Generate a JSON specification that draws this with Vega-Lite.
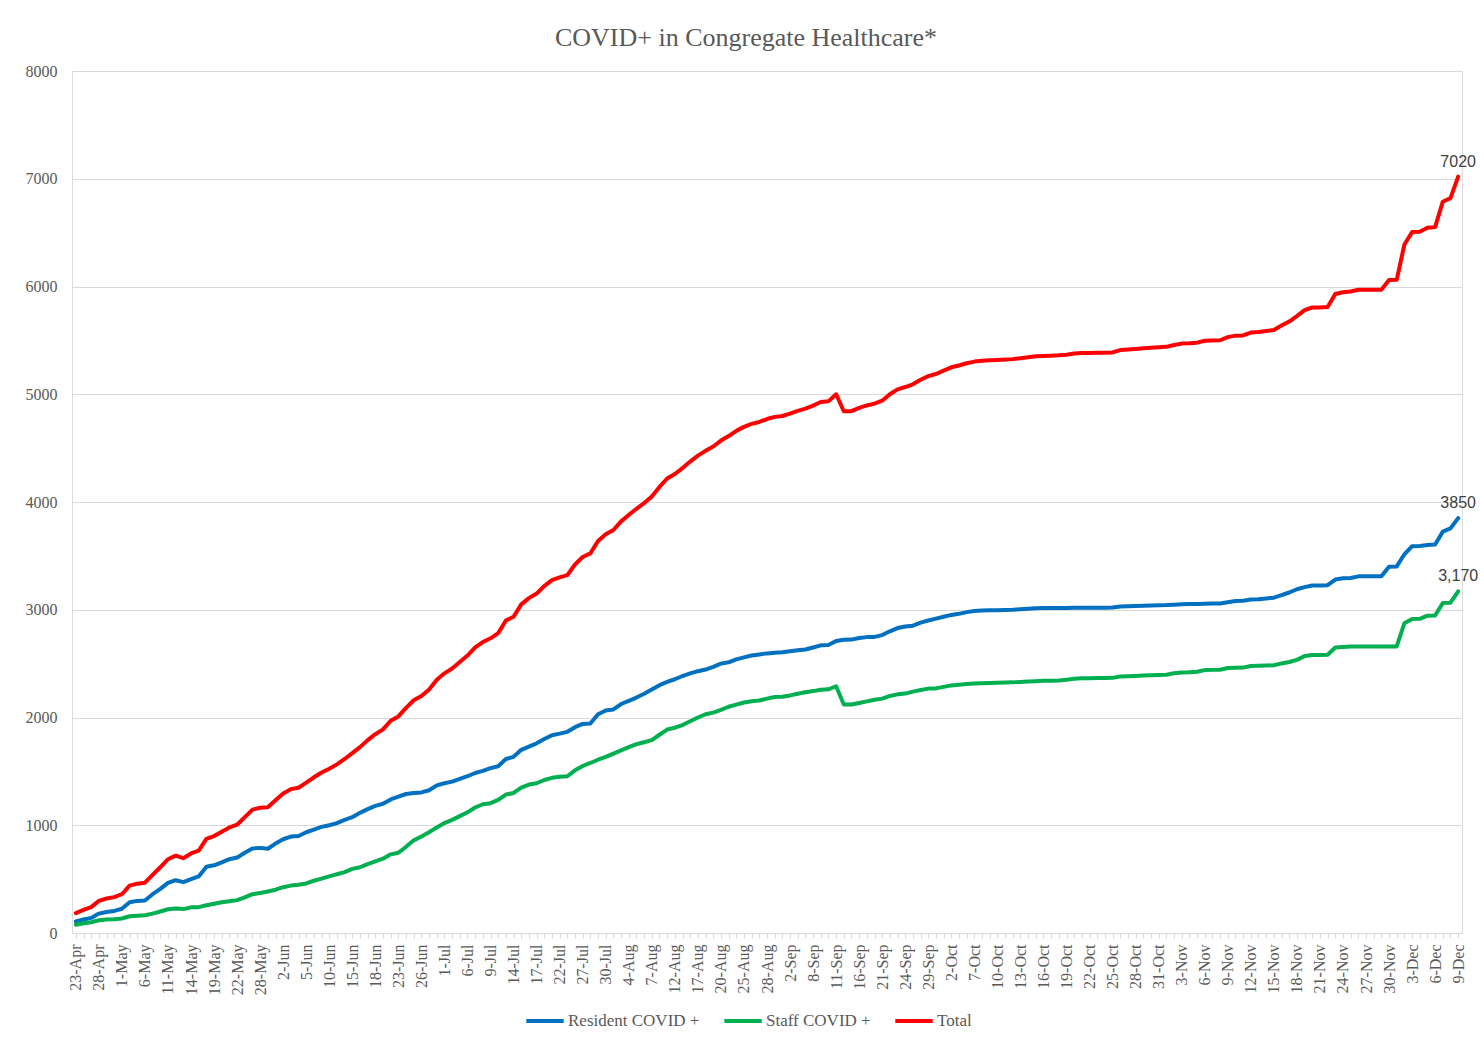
{
  "$schema": "https://vega.github.io/schema/vega-lite/v6.json",
  "width": 1390,
  "height": 862,
  "autosize": {"type": "none"},
  "padding": {"left": 72, "top": 71, "right": 22, "bottom": 109},
  "background": "white",
  "title": {"text": "COVID+ in Congregate Healthcare*", "font": "Liberation Serif", "fontSize": 26, "fontWeight": "normal", "color": "#595959", "anchor": "middle", "dx": -21, "offset": 12},
  "data": {"values": [
    {"d":"23-Apr","R":108,"S":77,"T":185},
    {"d":"24-Apr","R":125,"S":90,"T":215},
    {"d":"27-Apr","R":140,"S":100,"T":240},
    {"d":"28-Apr","R":180,"S":118,"T":298},
    {"d":"29-Apr","R":195,"S":125,"T":320},
    {"d":"30-Apr","R":205,"S":128,"T":333},
    {"d":"1-May","R":225,"S":135,"T":360},
    {"d":"4-May","R":285,"S":155,"T":440},
    {"d":"5-May","R":298,"S":160,"T":458},
    {"d":"6-May","R":302,"S":165,"T":467},
    {"d":"7-May","R":360,"S":180,"T":540},
    {"d":"8-May","R":410,"S":200,"T":610},
    {"d":"11-May","R":465,"S":220,"T":685},
    {"d":"12-May","R":490,"S":228,"T":718},
    {"d":"13-May","R":472,"S":222,"T":694},
    {"d":"14-May","R":500,"S":238,"T":738},
    {"d":"15-May","R":525,"S":240,"T":765},
    {"d":"18-May","R":615,"S":258,"T":873},
    {"d":"19-May","R":628,"S":272,"T":900},
    {"d":"20-May","R":655,"S":285,"T":940},
    {"d":"21-May","R":685,"S":295,"T":980},
    {"d":"22-May","R":700,"S":305,"T":1005},
    {"d":"26-May","R":745,"S":330,"T":1075},
    {"d":"27-May","R":785,"S":360,"T":1145},
    {"d":"28-May","R":790,"S":372,"T":1162},
    {"d":"29-May","R":782,"S":385,"T":1167},
    {"d":"1-Jun","R":830,"S":402,"T":1232},
    {"d":"2-Jun","R":870,"S":425,"T":1295},
    {"d":"3-Jun","R":895,"S":440,"T":1335},
    {"d":"4-Jun","R":900,"S":448,"T":1348},
    {"d":"5-Jun","R":935,"S":460,"T":1395},
    {"d":"8-Jun","R":960,"S":485,"T":1445},
    {"d":"9-Jun","R":985,"S":505,"T":1490},
    {"d":"10-Jun","R":1000,"S":525,"T":1525},
    {"d":"11-Jun","R":1020,"S":545,"T":1565},
    {"d":"12-Jun","R":1050,"S":565,"T":1615},
    {"d":"15-Jun","R":1075,"S":595,"T":1670},
    {"d":"16-Jun","R":1115,"S":610,"T":1725},
    {"d":"17-Jun","R":1150,"S":640,"T":1790},
    {"d":"18-Jun","R":1180,"S":665,"T":1845},
    {"d":"19-Jun","R":1200,"S":690,"T":1890},
    {"d":"22-Jun","R":1240,"S":730,"T":1970},
    {"d":"23-Jun","R":1265,"S":745,"T":2010},
    {"d":"24-Jun","R":1290,"S":800,"T":2090},
    {"d":"25-Jun","R":1300,"S":860,"T":2160},
    {"d":"26-Jun","R":1305,"S":895,"T":2200},
    {"d":"29-Jun","R":1325,"S":935,"T":2260},
    {"d":"30-Jun","R":1370,"S":980,"T":2350},
    {"d":"1-Jul","R":1390,"S":1020,"T":2410},
    {"d":"2-Jul","R":1405,"S":1050,"T":2455},
    {"d":"3-Jul","R":1430,"S":1085,"T":2515},
    {"d":"6-Jul","R":1455,"S":1120,"T":2575},
    {"d":"7-Jul","R":1485,"S":1165,"T":2650},
    {"d":"8-Jul","R":1505,"S":1195,"T":2700},
    {"d":"9-Jul","R":1530,"S":1205,"T":2735},
    {"d":"10-Jul","R":1548,"S":1235,"T":2783},
    {"d":"13-Jul","R":1615,"S":1285,"T":2900},
    {"d":"14-Jul","R":1635,"S":1300,"T":2935},
    {"d":"15-Jul","R":1700,"S":1350,"T":3050},
    {"d":"16-Jul","R":1730,"S":1378,"T":3108},
    {"d":"17-Jul","R":1760,"S":1390,"T":3150},
    {"d":"20-Jul","R":1800,"S":1420,"T":3220},
    {"d":"21-Jul","R":1835,"S":1440,"T":3275},
    {"d":"22-Jul","R":1850,"S":1450,"T":3300},
    {"d":"23-Jul","R":1867,"S":1455,"T":3322},
    {"d":"24-Jul","R":1910,"S":1510,"T":3420},
    {"d":"27-Jul","R":1940,"S":1550,"T":3490},
    {"d":"28-Jul","R":1945,"S":1578,"T":3523},
    {"d":"29-Jul","R":2030,"S":1608,"T":3638},
    {"d":"30-Jul","R":2065,"S":1635,"T":3700},
    {"d":"31-Jul","R":2075,"S":1665,"T":3740},
    {"d":"3-Aug","R":2125,"S":1695,"T":3820},
    {"d":"4-Aug","R":2155,"S":1725,"T":3880},
    {"d":"5-Aug","R":2185,"S":1752,"T":3937},
    {"d":"6-Aug","R":2220,"S":1770,"T":3990},
    {"d":"7-Aug","R":2260,"S":1790,"T":4050},
    {"d":"10-Aug","R":2300,"S":1840,"T":4140},
    {"d":"11-Aug","R":2330,"S":1888,"T":4218},
    {"d":"12-Aug","R":2355,"S":1905,"T":4260},
    {"d":"13-Aug","R":2385,"S":1930,"T":4315},
    {"d":"14-Aug","R":2410,"S":1965,"T":4375},
    {"d":"17-Aug","R":2430,"S":2000,"T":4430},
    {"d":"18-Aug","R":2445,"S":2030,"T":4475},
    {"d":"19-Aug","R":2470,"S":2045,"T":4515},
    {"d":"20-Aug","R":2500,"S":2070,"T":4570},
    {"d":"21-Aug","R":2512,"S":2100,"T":4612},
    {"d":"24-Aug","R":2540,"S":2120,"T":4660},
    {"d":"25-Aug","R":2558,"S":2139,"T":4697},
    {"d":"26-Aug","R":2575,"S":2150,"T":4725},
    {"d":"27-Aug","R":2585,"S":2158,"T":4743},
    {"d":"28-Aug","R":2595,"S":2175,"T":4770},
    {"d":"31-Aug","R":2600,"S":2190,"T":4790},
    {"d":"1-Sep","R":2606,"S":2192,"T":4798},
    {"d":"2-Sep","R":2615,"S":2205,"T":4820},
    {"d":"3-Sep","R":2625,"S":2220,"T":4845},
    {"d":"4-Sep","R":2631,"S":2235,"T":4866},
    {"d":"8-Sep","R":2650,"S":2245,"T":4895},
    {"d":"9-Sep","R":2670,"S":2258,"T":4928},
    {"d":"10-Sep","R":2672,"S":2262,"T":4934},
    {"d":"11-Sep","R":2710,"S":2290,"T":5000},
    {"d":"14-Sep","R":2722,"S":2120,"T":4842},
    {"d":"15-Sep","R":2723,"S":2120,"T":4843},
    {"d":"16-Sep","R":2738,"S":2135,"T":4873},
    {"d":"17-Sep","R":2746,"S":2150,"T":4896},
    {"d":"18-Sep","R":2748,"S":2165,"T":4913},
    {"d":"21-Sep","R":2765,"S":2175,"T":4940},
    {"d":"22-Sep","R":2800,"S":2200,"T":5000},
    {"d":"23-Sep","R":2830,"S":2215,"T":5045},
    {"d":"24-Sep","R":2845,"S":2222,"T":5067},
    {"d":"25-Sep","R":2852,"S":2240,"T":5092},
    {"d":"28-Sep","R":2880,"S":2255,"T":5135},
    {"d":"29-Sep","R":2900,"S":2268,"T":5168},
    {"d":"30-Sep","R":2918,"S":2270,"T":5188},
    {"d":"1-Oct","R":2935,"S":2284,"T":5219},
    {"d":"2-Oct","R":2952,"S":2298,"T":5250},
    {"d":"5-Oct","R":2962,"S":2305,"T":5267},
    {"d":"6-Oct","R":2978,"S":2310,"T":5288},
    {"d":"7-Oct","R":2988,"S":2315,"T":5303},
    {"d":"8-Oct","R":2993,"S":2318,"T":5311},
    {"d":"9-Oct","R":2995,"S":2320,"T":5315},
    {"d":"10-Oct","R":2996,"S":2322,"T":5318},
    {"d":"11-Oct","R":2998,"S":2324,"T":5322},
    {"d":"12-Oct","R":3000,"S":2326,"T":5326},
    {"d":"13-Oct","R":3005,"S":2330,"T":5335},
    {"d":"14-Oct","R":3010,"S":2334,"T":5344},
    {"d":"15-Oct","R":3015,"S":2337,"T":5352},
    {"d":"16-Oct","R":3016,"S":2340,"T":5356},
    {"d":"17-Oct","R":3016,"S":2342,"T":5358},
    {"d":"18-Oct","R":3017,"S":2344,"T":5361},
    {"d":"19-Oct","R":3017,"S":2350,"T":5367},
    {"d":"20-Oct","R":3018,"S":2360,"T":5378},
    {"d":"21-Oct","R":3018,"S":2365,"T":5383},
    {"d":"22-Oct","R":3018,"S":2365,"T":5383},
    {"d":"23-Oct","R":3019,"S":2366,"T":5385},
    {"d":"24-Oct","R":3019,"S":2366,"T":5385},
    {"d":"25-Oct","R":3020,"S":2368,"T":5388},
    {"d":"26-Oct","R":3030,"S":2380,"T":5410},
    {"d":"27-Oct","R":3032,"S":2383,"T":5415},
    {"d":"28-Oct","R":3034,"S":2386,"T":5420},
    {"d":"29-Oct","R":3036,"S":2390,"T":5426},
    {"d":"30-Oct","R":3039,"S":2393,"T":5432},
    {"d":"31-Oct","R":3041,"S":2395,"T":5436},
    {"d":"1-Nov","R":3043,"S":2397,"T":5440},
    {"d":"2-Nov","R":3047,"S":2410,"T":5457},
    {"d":"3-Nov","R":3052,"S":2418,"T":5470},
    {"d":"4-Nov","R":3053,"S":2420,"T":5473},
    {"d":"5-Nov","R":3054,"S":2425,"T":5479},
    {"d":"6-Nov","R":3056,"S":2440,"T":5496},
    {"d":"7-Nov","R":3057,"S":2442,"T":5499},
    {"d":"8-Nov","R":3058,"S":2443,"T":5501},
    {"d":"9-Nov","R":3070,"S":2460,"T":5530},
    {"d":"10-Nov","R":3082,"S":2462,"T":5544},
    {"d":"11-Nov","R":3083,"S":2463,"T":5546},
    {"d":"12-Nov","R":3095,"S":2478,"T":5573},
    {"d":"13-Nov","R":3097,"S":2480,"T":5577},
    {"d":"14-Nov","R":3105,"S":2482,"T":5587},
    {"d":"15-Nov","R":3112,"S":2485,"T":5597},
    {"d":"16-Nov","R":3135,"S":2502,"T":5637},
    {"d":"17-Nov","R":3160,"S":2515,"T":5675},
    {"d":"18-Nov","R":3190,"S":2535,"T":5725},
    {"d":"19-Nov","R":3210,"S":2570,"T":5780},
    {"d":"20-Nov","R":3225,"S":2580,"T":5805},
    {"d":"21-Nov","R":3225,"S":2580,"T":5805},
    {"d":"22-Nov","R":3228,"S":2582,"T":5810},
    {"d":"23-Nov","R":3280,"S":2650,"T":5930},
    {"d":"24-Nov","R":3292,"S":2655,"T":5947},
    {"d":"25-Nov","R":3295,"S":2658,"T":5953},
    {"d":"26-Nov","R":3310,"S":2660,"T":5970},
    {"d":"27-Nov","R":3310,"S":2660,"T":5970},
    {"d":"28-Nov","R":3310,"S":2660,"T":5970},
    {"d":"29-Nov","R":3310,"S":2660,"T":5970},
    {"d":"30-Nov","R":3400,"S":2660,"T":6060},
    {"d":"1-Dec","R":3402,"S":2660,"T":6062},
    {"d":"2-Dec","R":3515,"S":2875,"T":6390},
    {"d":"3-Dec","R":3590,"S":2915,"T":6505},
    {"d":"4-Dec","R":3592,"S":2916,"T":6508},
    {"d":"5-Dec","R":3600,"S":2945,"T":6545},
    {"d":"6-Dec","R":3605,"S":2946,"T":6551},
    {"d":"7-Dec","R":3725,"S":3062,"T":6787},
    {"d":"8-Dec","R":3755,"S":3065,"T":6820},
    {"d":"9-Dec","R":3850,"S":3170,"T":7020}
  ]},
  "transform": [{"fold": ["R", "S", "T"], "as": ["k", "v"]}],
  "encoding": {
    "x": {
      "field": "d", "type": "ordinal", "sort": null,
      "scale": {"type": "point", "padding": 0.5},
      "axis": {
        "title": null, "labelAngle": -90, "labelFont": "Liberation Serif", "labelFontSize": 16,
        "labelColor": "#595959", "labelOverlap": false, "labelPadding": 6,
        "labelExpr": "indexof(domain('x'), datum.value) % 3 === 0 ? datum.value : ''",
        "domainColor": "#D9D9D9", "tickColor": "#D9D9D9", "tickSize": 5, "grid": false
      }
    },
    "y": {
      "field": "v", "type": "quantitative",
      "scale": {"domain": [0, 8000]},
      "axis": {
        "title": null, "values": [0, 1000, 2000, 3000, 4000, 5000, 6000, 7000, 8000], "format": "d",
        "grid": true, "gridColor": "#D9D9D9", "domain": false, "ticks": false,
        "labelFont": "Liberation Serif", "labelFontSize": 16, "labelColor": "#595959", "labelPadding": 15
      }
    }
  },
  "layer": [
    {
      "mark": {"type": "line", "strokeWidth": 4, "strokeJoin": "round", "strokeCap": "round"},
      "encoding": {
        "color": {
          "field": "k", "type": "nominal",
          "scale": {"domain": ["R", "S", "T"], "range": ["#0070C0", "#00B050", "#FF0000"]},
          "legend": {
            "orient": "none", "legendX": 452, "legendY": 929, "direction": "horizontal", "title": null,
            "symbolType": "stroke", "symbolSize": 1400, "symbolStrokeWidth": 4,
            "labelFont": "Liberation Serif", "labelFontSize": 17, "labelColor": "#595959",
            "labelOffset": 2, "columnPadding": 16,
            "labelExpr": "datum.value === 'R' ? 'Resident COVID +' : datum.value === 'S' ? 'Staff COVID +' : 'Total'"
          }
        }
      }
    },
    {
      "transform": [{"filter": "datum.d === '9-Dec' && datum.k !== 'S'"}],
      "mark": {"type": "text", "dy": -15, "font": "Liberation Sans", "fontSize": 16, "color": "#404040"},
      "encoding": {"text": {"field": "v", "type": "quantitative", "format": "d"}}
    },
    {
      "transform": [{"filter": "datum.d === '9-Dec' && datum.k === 'S'"}],
      "mark": {"type": "text", "dy": -15, "font": "Liberation Sans", "fontSize": 16, "color": "#404040"},
      "encoding": {"text": {"field": "v", "type": "quantitative", "format": ","}}
    }
  ]
}
